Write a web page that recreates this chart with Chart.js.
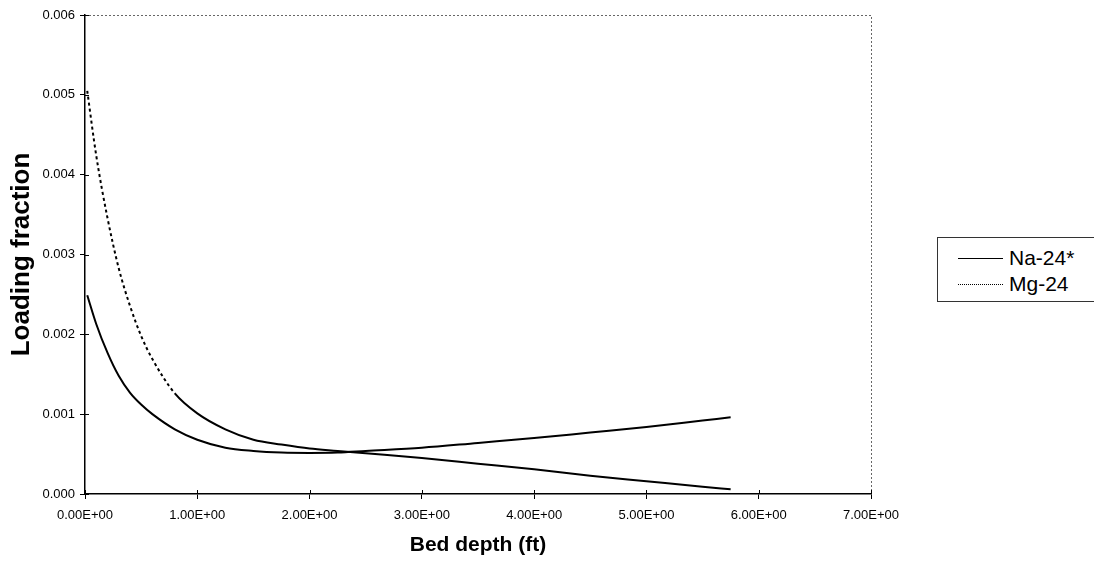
<!DOCTYPE html>
<html>
<head>
<meta charset="utf-8">
<title>Loading fraction vs bed depth</title>
<script src="https://cdn.jsdelivr.net/npm/chart.js@4.4.1/dist/chart.umd.min.js"></script>
<style>
  body { margin: 0; background: #fff; }
  #wrap { position: relative; width: 1094px; height: 565px; }
  #legend {
    position: absolute; left: 937px; top: 237px; width: 170px; height: 63px;
    border: 1px solid #333; background: #fff;
    font: 21px Arial, "Liberation Sans", sans-serif; color: #000;
  }
  .row { position: absolute; left: 20px; height: 24px; display: flex; align-items: center; }
  .swatch { width: 45px; height: 0; margin-right: 6px; }
</style>
</head>
<body>
<div id="wrap">
  <canvas id="loadingChart" width="1094" height="565"></canvas>
  <div id="legend">
    <div class="row" style="top:8px"><span class="swatch" style="border-top:1.5px solid #000"></span>Na-24*</div>
    <div class="row" style="top:34px"><span class="swatch" style="border-top:1.5px dotted #000"></span>Mg-24</div>
  </div>
</div>
<script>
// bed depth (ft) and loading fraction per nuclide
const depth = [0.02, 0.1, 0.2, 0.3, 0.4, 0.5, 0.6, 0.8, 1.0, 1.25, 1.5, 1.75, 2.0, 2.25, 2.5, 3.0, 3.5, 4.0, 4.5, 5.0, 5.5, 5.75];
const na24 = [0.00249, 0.00213, 0.00177, 0.00148, 0.00127, 0.00112, 0.00100, 0.00081, 0.00068, 0.00058, 0.00054, 0.00052, 0.000515, 0.00052, 0.00054, 0.00058, 0.00064, 0.00070, 0.00077, 0.00084, 0.00092, 0.00096];
const mg24 = [0.00505, 0.00424, 0.00346, 0.00283, 0.00236, 0.00198, 0.00169, 0.00126, 0.00101, 0.00081, 0.00068, 0.00062, 0.00057, 0.00054, 0.00051, 0.00045, 0.00038, 0.00031, 0.00023, 0.00016, 0.00009, 0.00006];

const seriesNames = ['Na-24*', 'Mg-24'];
const xTitle = 'Bed depth (ft)';
const yTitle = 'Loading fraction';

const toPoints = ys => depth.map((x, i) => ({ x: x, y: ys[i] }));

// dotted where the curve is steep, where the dots stay apart
const steepDash = c => {
  const dx = Math.abs(c.p1.x - c.p0.x) || 1;
  return Math.abs(c.p1.y - c.p0.y) / dx > 1.4 ? [3, 3] : undefined;
};

// dotted frame on top/right plus tick marks that cross the axes
const frame = {
  id: 'frame',
  afterDraw(chart) {
    const { ctx, chartArea: a, scales } = chart;
    ctx.save();
    ctx.strokeStyle = '#666';
    ctx.lineWidth = 1;
    ctx.setLineDash([2, 2]);
    ctx.beginPath();
    ctx.moveTo(a.left, a.top + 0.5);
    ctx.lineTo(a.right + 0.5, a.top + 0.5);
    ctx.lineTo(a.right + 0.5, a.bottom);
    ctx.stroke();
    ctx.setLineDash([]);
    ctx.strokeStyle = '#000';
    ctx.beginPath();
    scales.x.ticks.forEach(t => {
      const px = Math.round(scales.x.getPixelForValue(t.value)) + 0.5;
      ctx.moveTo(px, a.bottom - 4);
      ctx.lineTo(px, a.bottom);
    });
    scales.y.ticks.forEach(t => {
      const py = Math.round(scales.y.getPixelForValue(t.value)) + 0.5;
      ctx.moveTo(a.left, py);
      ctx.lineTo(a.left + 4, py);
    });
    ctx.stroke();
    ctx.restore();
  }
};

const family = 'Arial, "Liberation Sans", sans-serif';
const tickFont = { family: family, size: 13 };

new Chart(document.getElementById('loadingChart'), {
  type: 'scatter',
  data: {
    datasets: [
      {
        label: seriesNames[0],
        data: toPoints(na24),
        showLine: true,
        borderColor: '#000',
        borderWidth: 2,
        pointRadius: 0,
        cubicInterpolationMode: 'monotone'
      },
      {
        label: seriesNames[1],
        data: toPoints(mg24),
        showLine: true,
        borderColor: '#000',
        borderWidth: 2,
        pointRadius: 0,
        cubicInterpolationMode: 'monotone',
        segment: { borderDash: steepDash }
      }
    ]
  },
  options: {
    responsive: false,
    animation: false,
    layout: { padding: { top: 15, right: 223, bottom: 0, left: 0 } },
    plugins: { legend: { display: false }, tooltip: { enabled: false } },
    scales: {
      x: {
        type: 'linear',
        min: 0,
        max: 7,
        afterFit: s => { s.height = 71; },
        ticks: {
          stepSize: 1,
          autoSkip: false,
          maxRotation: 0,
          padding: 9,
          color: '#000',
          font: tickFont,
          callback: v => v.toFixed(2) + 'E+00'
        },
        grid: { drawOnChartArea: false, tickLength: 5, tickColor: '#000' },
        border: { color: '#000', width: 1.5 },
        title: { display: true, text: xTitle, color: '#000', font: { family: family, size: 21, weight: 'bold' }, padding: { top: 0, bottom: 7 } }
      },
      y: {
        min: 0,
        max: 0.006,
        afterFit: s => { s.width = 85; },
        ticks: {
          stepSize: 0.001,
          padding: 5,
          color: '#000',
          font: tickFont,
          callback: v => v.toFixed(3)
        },
        grid: { drawOnChartArea: false, tickLength: 5, tickColor: '#000' },
        border: { color: '#000', width: 1.5 },
        title: { display: true, text: yTitle, color: '#000', font: { family: family, size: 26, weight: 'bold' }, padding: { top: 6, bottom: 0 } }
      }
    }
  },
  plugins: [frame]
});
</script>
</body>
</html>
